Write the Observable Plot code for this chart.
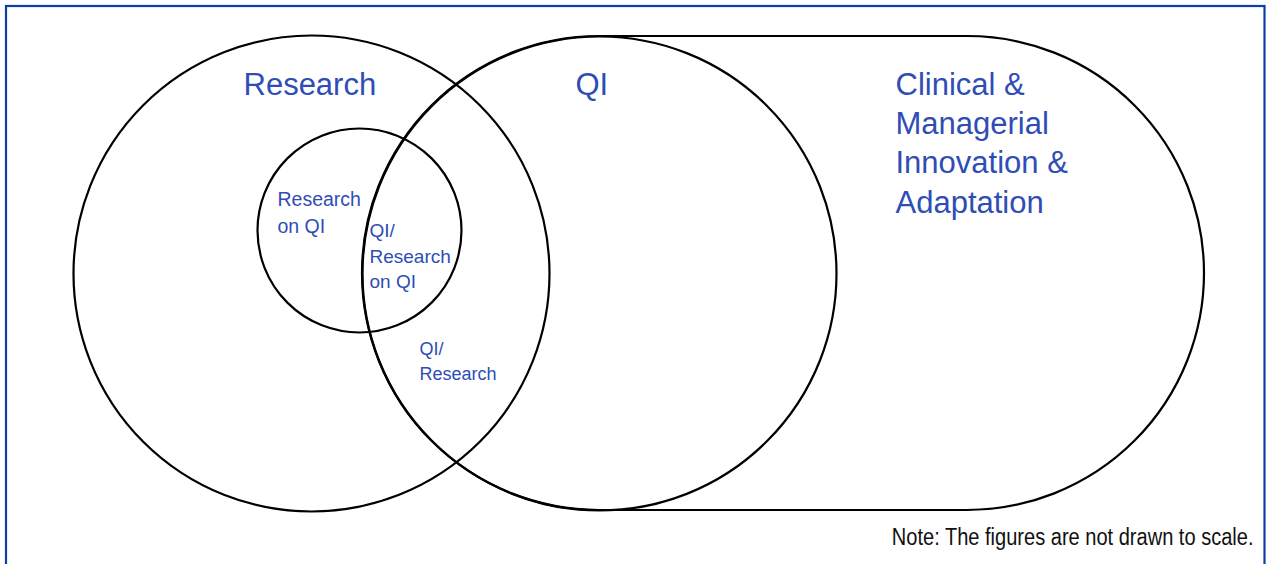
<!DOCTYPE html>
<html>
<head>
<meta charset="utf-8">
<script src="https://cdn.jsdelivr.net/npm/d3@7"></script>
<script src="https://cdn.jsdelivr.net/npm/@observablehq/plot@0.6"></script>
<style>
  html, body { margin: 0; padding: 0; background: #fff; }
  #chart svg { display: block; }
</style>
</head>
<body>
<div id="chart"></div>
<script>
// Circles of the diagram (pixel units of the 1266x564 drawing)
const circleNames = ["Research", "QI", "Research on QI"];
const circleCx = [311, 599, 359];
const circleCy = [273, 273, 230];
const circleR = [238, 237, 102];

// The stadium ("Clinical & Managerial Innovation & Adaptation")
const stadiumNames = ["Clinical & Managerial Innovation & Adaptation"];
const stadiumX1 = [362];
const stadiumX2 = [1204];
const stadiumY1 = [36];
const stadiumY2 = [510];

// Labels
const labelTexts = [
  "Research",
  "QI",
  "Clinical &\nManagerial\nInnovation &\nAdaptation",
  "Research\non QI",
  "QI/\nResearch\non QI",
  "QI/\nResearch"
];
const labelX = [243, 575, 895, 277, 369, 419];
const labelY = [72, 72, 72, 192, 223, 342];
const labelSize = [31, 31, 31, 19.5, 19, 18];
const labelLineHeight = [1.27, 1.27, 1.27, 1.38, 1.35, 1.38];

const noteText = ["Note: The figures are not drawn to scale."];

const W = 1266, H = 564;

const circles = circleNames.map((n, i) => ({name: n, x: circleCx[i], y: circleCy[i], r: circleR[i]}));
const stadium = stadiumNames.map((n, i) => ({name: n, x1: stadiumX1[i], x2: stadiumX2[i], y1: stadiumY1[i], y2: stadiumY2[i]}));
const labels = labelTexts.map((t, i) => ({text: t, x: labelX[i], y: labelY[i], size: labelSize[i], lh: labelLineHeight[i]}));

const blue = "#2e4db5";

const marks = [
  // outer blue border
  Plot.rect([{x1: 6, x2: 1264.5, y1: 6, y2: 600}], {x1: "x1", x2: "x2", y1: "y1", y2: "y2", fill: "none", stroke: "#0a3ea8", strokeWidth: 2.2}),
  Plot.rect(stadium, {x1: "x1", x2: "x2", y1: "y1", y2: "y2", rx: 237, ry: 237, fill: "none", stroke: "#000", strokeWidth: 2.2}),
  Plot.dot(circles, {x: "x", y: "y", r: "r", fill: "none", stroke: "#000", strokeWidth: 2.2})
];

labels.forEach(l => {
  marks.push(Plot.text([l], {
    x: "x", y: "y", text: "text",
    textAnchor: "start", lineAnchor: "top",
    fontSize: l.size, lineHeight: l.lh,
    // Plot offsets the first line by 0.71 * lineHeight em; keep cap tops at y
    dy: -0.71 * (l.lh - 1) * l.size,
    fill: blue, fontFamily: "Liberation Sans, Arial, sans-serif", fontWeight: 400
  }));
});

marks.push(Plot.text(noteText, {
  x: () => 1253, y: () => 544, text: d => d,
  textAnchor: "end", lineAnchor: "bottom",
  fontSize: 23.5, fill: "#111",
  fontFamily: "'Liberation Sans Narrow', 'Arial Narrow', 'Liberation Sans', sans-serif"
}));

const chart = Plot.plot({
  width: W, height: H,
  margin: 0, marginTop: 0, marginRight: 0, marginBottom: 0, marginLeft: 0,
  x: {type: "linear", domain: [0, W], range: [0, W], axis: null},
  y: {type: "linear", domain: [0, H], range: [0, H], axis: null},
  r: {type: "identity"},
  style: {background: "#fff", overflow: "hidden"},
  marks
});
document.getElementById("chart").appendChild(chart);
// condense the note horizontally, like the narrow face of the original
d3.select(chart).selectAll("text")
  .filter(function () { return this.textContent === noteText[0]; })
  .each(function () {
    const w = this.getComputedTextLength();
    const k = w > 0 ? Math.min(1, 362 / w) : 1;
    const t = this.getAttribute("transform") || "";
    this.setAttribute("transform", t + ` scale(${k},1)`);
  });
</script>
</body>
</html>
